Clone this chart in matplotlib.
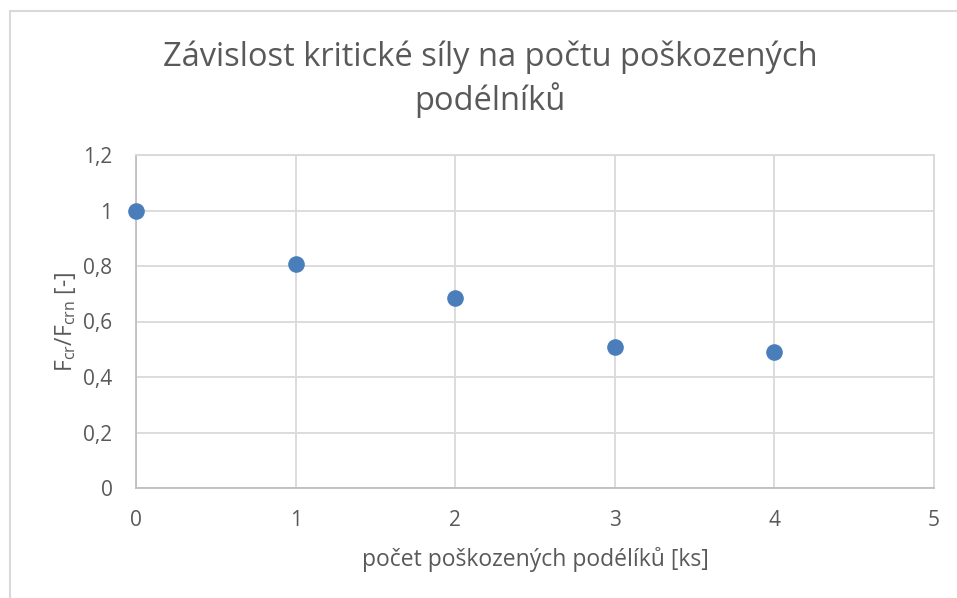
import matplotlib.pyplot as plt
from matplotlib.patches import Rectangle
from matplotlib.ticker import FuncFormatter

# počet poškozených podélníků a poměr kritických sil
pocet = [0, 1, 2, 3, 4]
pomer = [1.0, 0.806, 0.685, 0.507, 0.490]

x_ticks = [0, 1, 2, 3, 4, 5]
y_ticks = [0, 0.2, 0.4, 0.6, 0.8, 1.0, 1.2]

sedy_text = '#595959'
mrizka = '#D9D9D9'
modra = '#4A7EBB'

plt.rcParams['font.family'] = ['Open Sans', 'DejaVu Sans']

fig = plt.figure(figsize=(9.57, 5.98), dpi=100)
W, H = 957, 598

# rámeček grafu
fig.patches.append(Rectangle((10 / W, -0.1), 1.2, 1.1 - 11 / H, transform=fig.transFigure,
                             fill=False, edgecolor='#D9D9D9', linewidth=1.5))

ax = fig.add_axes([136 / W, 1 - 488 / H, (934 - 136) / W, (488 - 155) / H])
ax.scatter(pocet, pomer, s=120, color=modra, zorder=3, clip_on=False)

ax.set_xlim(0, 5)
ax.set_ylim(0, 1.2)
ax.set_xticks(x_ticks)
ax.set_yticks(y_ticks)


def carka(v, pos):
    s = ('%.1f' % v).rstrip('0').rstrip('.')
    return s.replace('.', ',')


ax.yaxis.set_major_formatter(FuncFormatter(carka))
ax.xaxis.set_major_formatter(FuncFormatter(carka))
ax.grid(True, color=mrizka, linewidth=1.3)
ax.set_axisbelow(True)
for s in ax.spines.values():
    s.set_color(mrizka)
    s.set_linewidth(1.3)
ax.spines['left'].set_color('#BFBFBF')
ax.spines['bottom'].set_color('#BFBFBF')
ax.tick_params(length=0, labelsize=15, colors=sedy_text)
ax.tick_params(axis='y', pad=17)
ax.tick_params(axis='x', pad=16)

ax.set_xlabel('počet poškozených podélíků [ks]', fontsize=16.5, color=sedy_text, labelpad=11)
ax.set_ylabel(r'F$_{\mathregular{cr}}$/F$_{\mathregular{crn}}$ [-]', fontsize=16.5,
              color=sedy_text, labelpad=4)

fig.text(490 / W, 1 - 79 / H, 'Závislost kritické síly na počtu poškozených\npodélníků',
         ha='center', va='center', fontsize=23.5, color=sedy_text, linespacing=1.3)

fig.savefig('out.png', dpi=100)
